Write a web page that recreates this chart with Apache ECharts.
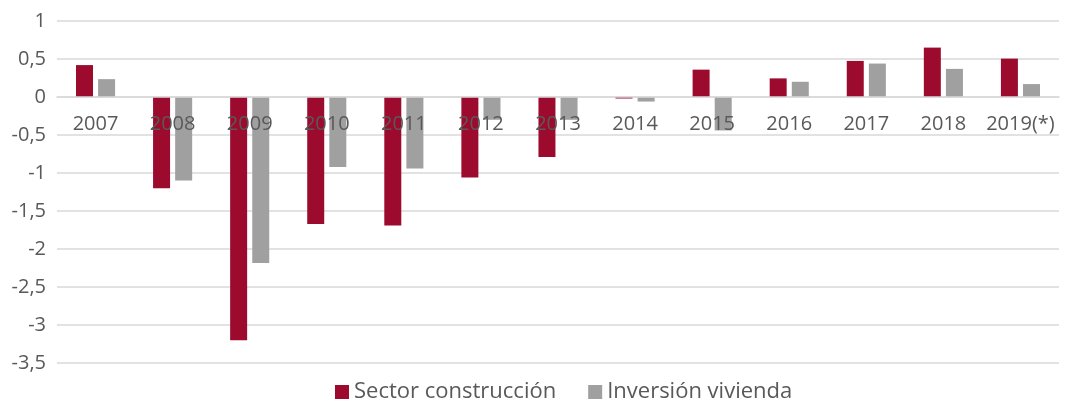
<!DOCTYPE html>
<html>
<head>
<meta charset="utf-8">
<script src="https://cdn.jsdelivr.net/npm/echarts@6/dist/echarts.min.js"></script>
<style>
  html, body { margin: 0; padding: 0; background: #fff; }
  #chart { width: 1071px; height: 403px; }
</style>
</head>
<body>
<div id="chart"></div>
<script>
// datos
const years = ['2007', '2008', '2009', '2010', '2011', '2012', '2013', '2014', '2015', '2016', '2017', '2018', '2019(*)'];
const sectorConstruccion = [0.42, -1.2, -3.2, -1.67, -1.69, -1.06, -0.79, -0.02, 0.36, 0.245, 0.475, 0.65, 0.505];
const inversionVivienda = [0.235, -1.1, -2.185, -0.92, -0.94, -0.3, -0.3, -0.06, -0.44, 0.2, 0.44, 0.37, 0.17];
const seriesNames = ['Sector construcción', 'Inversión vivienda'];

const FONT = 'Open Sans';
const TXT = '#595959';
const Y_MIN = -3.5, Y_MAX = 1;
const GRID_TOP = 21, GRID_BOTTOM = 40;

// las etiquetas de categoría van junto a la línea del cero (como en Excel)
const plotH = 403 - GRID_TOP - GRID_BOTTOM;
const zeroOffset = -plotH * (0 - Y_MIN) / (Y_MAX - Y_MIN);

const chart = echarts.init(document.getElementById('chart'));
chart.setOption({
  animation: false,
  textStyle: { fontFamily: FONT },
  grid: { left: 57, right: 12, top: GRID_TOP, bottom: GRID_BOTTOM, containLabel: false },
  legend: {
    data: seriesNames,
    left: 330,
    top: 376,
    itemWidth: 14,
    itemHeight: 14,
    itemGap: 32,
    icon: 'rect',
    textStyle: { fontFamily: FONT, fontSize: 22, color: TXT }
  },
  xAxis: {
    type: 'category',
    data: years,
    offset: zeroOffset,
    z: 5,
    axisLine: { onZero: false, lineStyle: { color: '#d9d9d9', width: 1.5 } },
    axisTick: { show: false },
    axisLabel: { interval: 0, margin: 17, fontSize: 20, color: TXT, fontFamily: FONT }
  },
  yAxis: {
    type: 'value',
    min: Y_MIN,
    max: Y_MAX,
    interval: 0.5,
    axisLine: { show: false },
    axisTick: { show: false },
    splitLine: { lineStyle: { color: '#d9d9d9', width: 1.5 } },
    axisLabel: {
      margin: 11,
      fontSize: 20,
      color: TXT,
      fontFamily: FONT,
      formatter: v => String(v).replace('.', ',')
    }
  },
  series: [
    {
      name: seriesNames[0],
      type: 'bar',
      data: sectorConstruccion,
      barWidth: 17,
      barGap: '30%',
      itemStyle: { color: '#9c0b2e' },
      z: 1
    },
    {
      name: seriesNames[1],
      type: 'bar',
      data: inversionVivienda,
      barWidth: 17,
      itemStyle: { color: '#a0a0a0' },
      z: 1
    }
  ]
});
</script>
</body>
</html>
